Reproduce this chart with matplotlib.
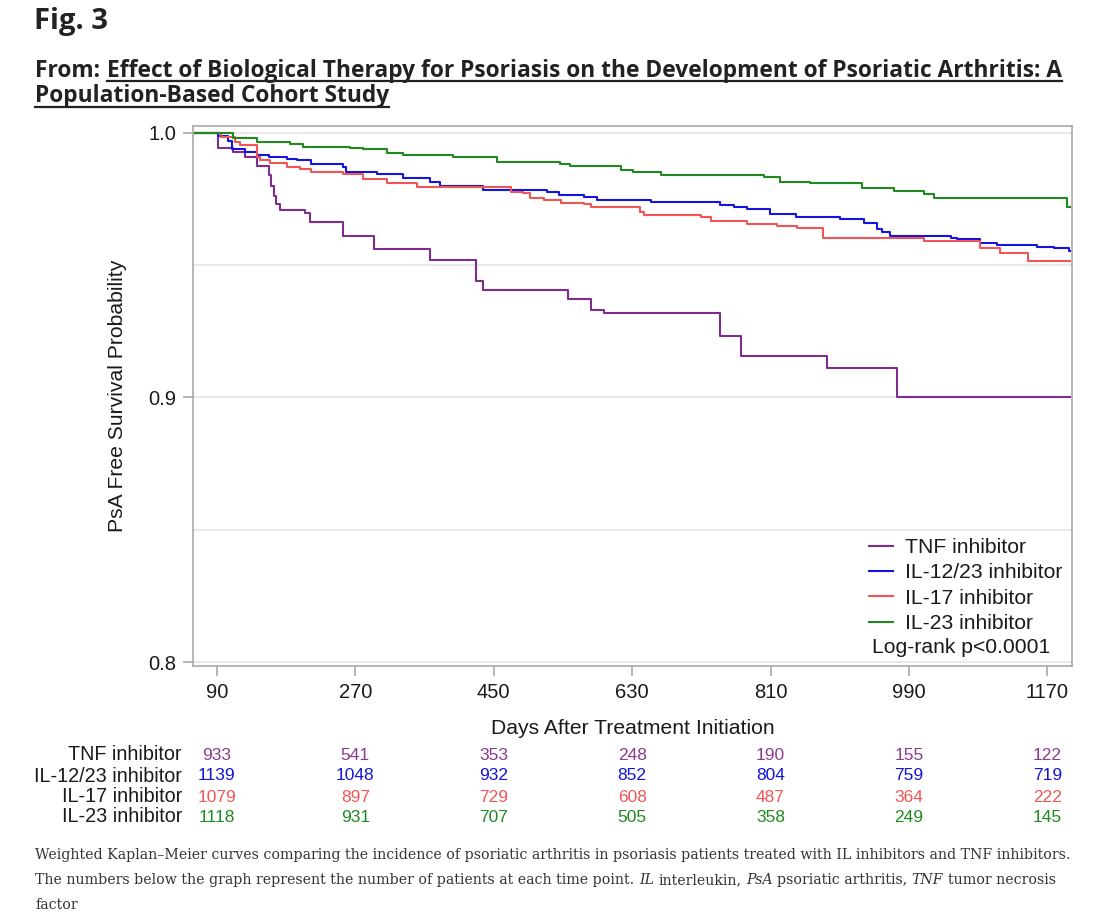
"""Weighted Kaplan-Meier curves, PsA free survival by biologic class (Fig. 3 replica)."""

import matplotlib
matplotlib.use("Agg")
import matplotlib.pyplot as plt
from matplotlib.lines import Line2D
from matplotlib.transforms import blended_transform_factory

# ==============================================================================
# DATA
# ==============================================================================

TNF_DAYS = [60, 91, 111, 126, 142, 158, 161, 164, 167, 172, 204, 211, 254, 295,
            367, 427, 436, 546, 577, 594, 744, 771, 883, 974, 1200]
TNF_SURV = [1.0, 0.9943, 0.9928, 0.991, 0.9875, 0.984, 0.980, 0.976, 0.973, 0.971,
            0.9698, 0.9664, 0.961, 0.9561, 0.952, 0.944, 0.9407, 0.9372, 0.933,
            0.932, 0.9233, 0.9157, 0.9112, 0.9002, 0.9002]

IL1223_DAYS = [60, 91, 104, 110, 126, 142, 158, 181, 194, 213, 254, 258, 298, 332,
               367, 380, 402, 436, 519, 535, 568, 584, 655, 744, 762, 779, 809, 843,
               900, 932, 948, 955, 965, 1045, 1052, 1082, 1105, 1156, 1179, 1198, 1200]
IL1223_SURV = [1.0, 0.9989, 0.997, 0.994, 0.9928, 0.9917, 0.991, 0.990, 0.9896,
               0.9883, 0.9872, 0.9853, 0.9846, 0.983, 0.9815, 0.980, 0.9798, 0.9785,
               0.9775, 0.9765, 0.9758, 0.9747, 0.974, 0.9728, 0.9718, 0.9713, 0.9694,
               0.9683, 0.9675, 0.966, 0.9637, 0.9626, 0.961, 0.9602, 0.9598, 0.9584,
               0.9575, 0.957, 0.9565, 0.9554, 0.9554]

IL17_DAYS = [60, 95, 113, 120, 142, 146, 159, 181, 198, 213, 254, 280, 311, 350,
             473, 488, 497, 515, 538, 568, 577, 640, 645, 720, 733, 779, 818, 844,
             878, 1010, 1082, 1108, 1145, 1200]
IL17_SURV = [1.0, 0.9985, 0.9966, 0.9955, 0.991, 0.9898, 0.9887, 0.9872, 0.9864,
             0.9853, 0.9845, 0.9826, 0.9811, 0.9797, 0.9776, 0.9773, 0.9754, 0.9747,
             0.9735, 0.973, 0.972, 0.970, 0.969, 0.9682, 0.9667, 0.9656, 0.9648,
             0.964, 0.9603, 0.9592, 0.9565, 0.9546, 0.9517, 0.9517]

IL23_DAYS = [60, 111, 142, 185, 202, 263, 280, 311, 332, 397, 454, 536, 549, 616,
             631, 668, 802, 822, 861, 929, 971, 1010, 1023, 1196, 1200]
IL23_SURV = [1.0, 0.998, 0.9966, 0.9958, 0.9948, 0.9943, 0.994, 0.9924, 0.9917,
             0.991, 0.989, 0.9882, 0.9875, 0.986, 0.9853, 0.9842, 0.9833, 0.9815,
             0.981, 0.9792, 0.978, 0.977, 0.9754, 0.972, 0.972]

GROUPS = ["TNF inhibitor", "IL-12/23 inhibitor", "IL-17 inhibitor", "IL-23 inhibitor"]

RISK_DAYS = [90, 270, 450, 630, 810, 990, 1170]
RISK_TNF = [933, 541, 353, 248, 190, 155, 122]
RISK_IL1223 = [1139, 1048, 932, 852, 804, 759, 719]
RISK_IL17 = [1079, 897, 729, 608, 487, 364, 222]
RISK_IL23 = [1118, 931, 707, 505, 358, 249, 145]

Y_TICKS = [0.8, 0.9, 1.0]
Y_GRID_MINOR = [0.85, 0.95]

TITLE = "Fig. 3"
SOURCE_PREFIX = "From:"
SOURCE_LINE1 = "Effect of Biological Therapy for Psoriasis on the Development of Psoriatic Arthritis: A"
SOURCE_LINE2 = "Population-Based Cohort Study"

CAPTION_LINES = [
    [("Weighted Kaplan\u2013Meier curves comparing the incidence of psoriatic arthritis in "
      "psoriasis patients treated with IL inhibitors and TNF inhibitors.", "normal")],
    [("The numbers below the graph represent the number of patients at each time point.", "normal"),
     ("IL", "italic"), ("interleukin,", "normal"), ("PsA", "italic"),
     ("psoriatic arthritis,", "normal"), ("TNF", "italic"), ("tumor necrosis", "normal")],
    [("factor", "normal")],
]

# ==============================================================================
# STYLE
# ==============================================================================

W_PX, H_PX = 1117, 923
DPI = 100

COLORS = ["#7D2D8C", "#1414E0", "#F25555", "#1F8A1F"]
NUM_COLORS = ["#8E3A90", "#1414D8", "#F25555", "#1F8A1F"]
FRAME = "#A9A9A9"
GRID = "#E4E4E4"
TEXT = "#1A1A1A"
SANS = ["Liberation Sans", "DejaVu Sans"]
HEAD = ["Open Sans", "DejaVu Sans"]
SERIF = ["DejaVu Serif"]

plt.rcParams.update({
    "font.family": SANS,
    "axes.linewidth": 1.2,
})


def px_x(x):
    return x / W_PX


def px_y(y):
    return 1 - y / H_PX


def text_width(fig, renderer, s, **kw):
    t = fig.text(0, 0, s, **kw)
    w = t.get_window_extent(renderer).width
    t.remove()
    return w


def draw_runs(fig, renderer, x0, y, runs, **kw):
    """Draw text runs of mixed styles one after another on one line."""
    space = text_width(fig, renderer, "a a", **kw) - text_width(fig, renderer, "aa", **kw)
    x = x0
    for s, style in runs:
        t = fig.text(px_x(x), px_y(y), s, style=style, va="baseline", ha="left", **kw)
        x += t.get_window_extent(renderer).width + space


def underline(fig, renderer, t, y_px, color):
    bb = t.get_window_extent(renderer)
    fig.add_artist(Line2D([bb.x0 / W_PX, bb.x1 / W_PX], [px_y(y_px)] * 2,
                          transform=fig.transFigure, color=color, lw=1.6))


# ==============================================================================
# PLOTTING
# ==============================================================================

fig = plt.figure(figsize=(W_PX / DPI, H_PX / DPI), dpi=DPI)
ax = fig.add_axes([px_x(193), px_y(666), (1072 - 193) / W_PX, (666 - 126) / H_PX])

curves = [(TNF_DAYS, TNF_SURV), (IL1223_DAYS, IL1223_SURV),
          (IL17_DAYS, IL17_SURV), (IL23_DAYS, IL23_SURV)]
for (d, s), name, c in zip(curves, GROUPS, COLORS):
    ax.step(d, s, where="post", color=c, lw=1.5, label=name)

ax.set_xlim(59, 1202)
ax.set_ylim(0.7985, 1.0026)
ax.set_xticks(RISK_DAYS)
ax.set_yticks(Y_TICKS)
ax.set_yticklabels([f"{v:.1f}" for v in Y_TICKS])
ax.set_yticks(Y_GRID_MINOR, minor=True)
ax.grid(True, axis="y", which="both", color=GRID, lw=1.2)
ax.set_axisbelow(True)
for sp in ax.spines.values():
    sp.set_color(FRAME)
ax.tick_params(which="major", length=7, width=1.2, color=FRAME, labelsize=14.5,
               labelcolor=TEXT, pad=5)
ax.tick_params(which="minor", length=0)

ax.set_ylabel("PsA Free Survival Probability", fontsize=15.2, color=TEXT)
ax.yaxis.set_label_coords(-0.075, 0.5)
ax.set_xlabel("Days After Treatment Initiation", fontsize=15.2, color=TEXT)
ax.xaxis.set_label_coords(0.5, -0.098)

leg = ax.legend(loc="upper left", bbox_to_anchor=(0.769, 0.237), frameon=False,
                fontsize=15.2, handlelength=1.15, handletextpad=0.55, labelspacing=0.3,
                borderaxespad=0, borderpad=0)
for txt in leg.get_texts():
    txt.set_color(TEXT)
ax.text(0.7725, 0.035, "Log-rank p<0.0001", transform=ax.transAxes, fontsize=15.2,
        color=TEXT, ha="left", va="center")

# number-at-risk table
risk_rows = [RISK_TNF, RISK_IL1223, RISK_IL17, RISK_IL23]
row_y = [755, 776, 797, 817]
row_tr = blended_transform_factory(ax.transData, fig.transFigure)
for name, vals, c, y in zip(GROUPS, risk_rows, NUM_COLORS, row_y):
    fig.text(px_x(182), px_y(y), name, ha="right", va="center", fontsize=14.2, color=TEXT)
    for d, v in zip(RISK_DAYS, vals):
        ax.text(d, px_y(y), str(v), transform=row_tr, ha="center", va="center",
                fontsize=12.5, color=c)

# header and caption
renderer = fig.canvas.get_renderer()
HEAD_KW = dict(fontweight="bold", family=HEAD, color="#222222", va="baseline")
fig.text(px_x(34), px_y(29), TITLE, fontsize=21, **HEAD_KW)
pre = fig.text(px_x(35), px_y(77), SOURCE_PREFIX, fontsize=16.4, **HEAD_KW)
pre_w = pre.get_window_extent(renderer).x1
t1 = fig.text((pre_w + 7) / W_PX, px_y(77), SOURCE_LINE1, fontsize=16.4, **HEAD_KW)
t2 = fig.text(px_x(35), px_y(102), SOURCE_LINE2, fontsize=16.4, **HEAD_KW)
underline(fig, renderer, t1, 81, "#222222")
underline(fig, renderer, t2, 107, "#222222")

for runs, y in zip(CAPTION_LINES, [859, 884, 909]):
    draw_runs(fig, renderer, 35, y, runs, fontsize=10.2, family=SERIF, color="#333333")

fig.savefig("out.png", dpi=DPI)
plt.close(fig)
